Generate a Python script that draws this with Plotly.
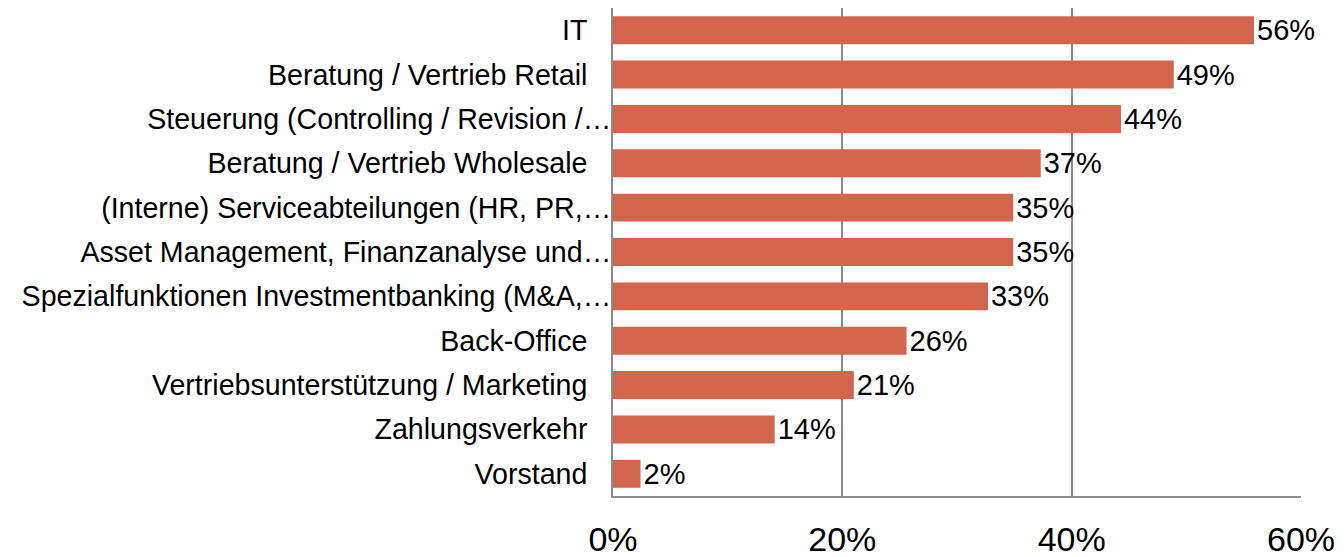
import plotly.graph_objects as go

categories = [
    "IT",
    "Beratung / Vertrieb Retail",
    "Steuerung (Controlling / Revision /…",
    "Beratung / Vertrieb Wholesale",
    "(Interne) Serviceabteilungen (HR, PR,…",
    "Asset Management, Finanzanalyse und…",
    "Spezialfunktionen Investmentbanking (M&A,…",
    "Back-Office",
    "Vertriebsunterstützung / Marketing",
    "Zahlungsverkehr",
    "Vorstand",
]
values = [55.9, 48.9, 44.3, 37.3, 34.9, 34.9, 32.7, 25.6, 21.0, 14.1, 2.4]
tick_values = [0, 20, 40, 60]
tick_labels = ["0%", "20%", "40%", "60%"]

# pad labels without ellipsis (Excel leaves extra room after them)
display_cats = [c if c.endswith("…") else c + "\u00a0\u00a0\u00a0" for c in categories]

FONT = "Liberation Sans, Arial, Helvetica, sans-serif"
GRID = "#8c8c8c"

fig = go.Figure(
    go.Bar(
        x=values,
        y=display_cats,
        orientation="h",
        marker=dict(color="#D2654B", line=dict(width=0)),
        texttemplate="%{x:.0f}%",
        textposition="outside",
        textfont=dict(family=FONT, size=29, color="black"),
        constraintext="none",
        cliponaxis=False,
        hoverinfo="skip",
    )
)

# page body has an 8px default margin, so the figure is offset by 8px
fig.update_layout(
    width=1336,
    height=549,
    margin=dict(l=605, r=43, t=0, b=61),
    paper_bgcolor="white",
    plot_bgcolor="white",
    bargap=0.37,
    showlegend=False,
    font=dict(family=FONT, color="black"),
    xaxis=dict(
        range=[0, 60],
        tickvals=tick_values,
        ticktext=tick_labels,
        tickfont=dict(size=34, color="black"),
        showgrid=True,
        gridcolor=GRID,
        gridwidth=1.5,
        showline=True,
        linecolor=GRID,
        linewidth=2,
        zeroline=False,
        ticks="outside",
        ticklen=12,
        tickcolor="rgba(0,0,0,0)",
        automargin=False,
        fixedrange=True,
    ),
    yaxis=dict(
        categoryorder="array",
        categoryarray=display_cats,
        autorange="reversed",
        tickfont=dict(size=28.6, color="black"),
        showgrid=False,
        showline=True,
        linecolor=GRID,
        linewidth=2,
        ticks="",
        ticklabelstandoff=-6,
        automargin=False,
        fixedrange=True,
    ),
)

fig.write_html("out.html")
